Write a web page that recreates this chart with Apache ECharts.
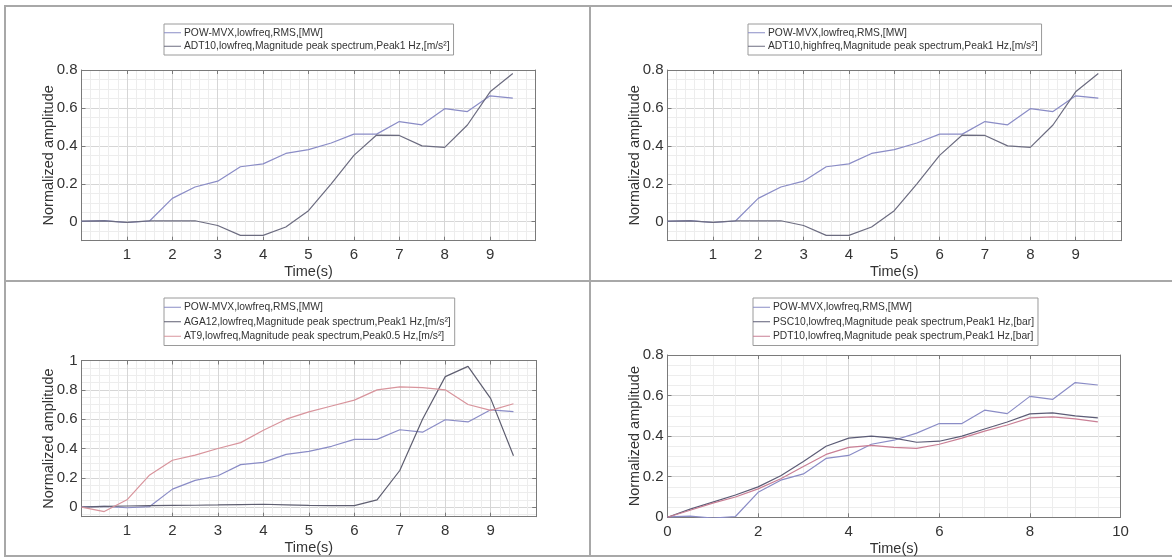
<!DOCTYPE html>
<html lang="en">
<head>
    <meta charset="UTF-8">
    <title>Normalized amplitude</title>
    <script src="https://cdn.jsdelivr.net/npm/echarts@6/dist/echarts.min.js"></script>
    <style>
        html,
        body {
            margin: 0px;
            padding: 0px;
            background: #fff;
        }

        #main {
            width: 1172px;
            height: 558px;
        }
    </style>
</head>
<body>
    <div id="main"></div>
    <script>
        // sample times (s)
        var time = [0, 0.5, 1, 1.5, 2, 2.5, 3, 3.5, 4, 4.5, 5, 5.5, 6, 6.5, 7, 7.5, 8, 8.5, 9, 9.5];

        // normalized series
        var powMvx = [0.002, 0.006, -0.004, 0.004, 0.123, 0.183, 0.214, 0.29, 0.305, 0.36, 0.38, 0.415, 0.462, 0.462, 0.528, 0.511, 0.596, 0.581, 0.664, 0.652];
        var adt10 = [0.003, 0.005, -0.003, 0.005, 0.005, 0.005, -0.02, -0.072, -0.072, -0.028, 0.058, 0.2, 0.35, 0.457, 0.455, 0.4, 0.392, 0.51, 0.685, 0.782];
        var aga12 = [0.0, 0.006, 0.008, 0.01, 0.012, 0.013, 0.015, 0.018, 0.02, 0.016, 0.012, 0.01, 0.01, 0.05, 0.25, 0.6, 0.89, 0.96, 0.74, 0.35];
        var at9 = [0.0, -0.03, 0.05, 0.22, 0.32, 0.355, 0.4, 0.44, 0.525, 0.6, 0.65, 0.69, 0.73, 0.8, 0.82, 0.815, 0.8, 0.7, 0.66, 0.705];
        var psc10 = [0.0, 0.04, 0.075, 0.11, 0.15, 0.205, 0.275, 0.35, 0.39, 0.4, 0.39, 0.37, 0.375, 0.4, 0.435, 0.47, 0.51, 0.515, 0.5, 0.49];
        var pdt10 = [0.0, 0.035, 0.07, 0.1, 0.14, 0.19, 0.25, 0.31, 0.345, 0.355, 0.345, 0.34, 0.36, 0.39, 0.425, 0.455, 0.49, 0.495, 0.485, 0.47];

        var names = {
            pow: 'POW-MVX,lowfreq,RMS,[MW]',
            adtLow: 'ADT10,lowfreq,Magnitude peak spectrum,Peak1 Hz,[m/s\u00b2]',
            adtHigh: 'ADT10,highfreq,Magnitude peak spectrum,Peak1 Hz,[m/s\u00b2]',
            aga: 'AGA12,lowfreq,Magnitude peak spectrum,Peak1 Hz,[m/s\u00b2]',
            at9: 'AT9,lowfreq,Magnitude peak spectrum,Peak0.5 Hz,[m/s\u00b2]',
            psc: 'PSC10,lowfreq,Magnitude peak spectrum,Peak1 Hz,[bar]',
            pdt: 'PDT10,lowfreq,Magnitude peak spectrum,Peak1 Hz,[bar]'
        };

        var FONT = '"Liberation Sans", Arial, sans-serif';
        var C_POW = '#8a8cc6';
        var C_DARK = '#6c6c80';
        var C_PINK = '#d8949c';

        var panels = [
            {
                grid: { left: 81.5, top: 70, width: 454, height: 170.7 },
                yMin: -0.1, yMax: 0.8, xStep: 1, xEnds: false,
                legend: { left: 164, top: 24 },
                lines: [[names.pow, powMvx, C_POW], [names.adtLow, adt10, C_DARK]]
            },
            {
                grid: { left: 667.5, top: 70, width: 453.5, height: 170.7 },
                yMin: -0.1, yMax: 0.8, xStep: 1, xEnds: false,
                legend: { left: 748, top: 24 },
                lines: [[names.pow, powMvx, C_POW], [names.adtHigh, adt10, C_DARK]]
            },
            {
                grid: { left: 81.5, top: 360.5, width: 454.7, height: 156.2 },
                yMin: -0.065, yMax: 1, xStep: 1, xEnds: false,
                legend: { left: 164, top: 298 },
                lines: [[names.pow, powMvx, C_POW], [names.aga, aga12, '#5e5e70'], [names.at9, at9, C_PINK]]
            },
            {
                grid: { left: 667.5, top: 355, width: 453, height: 162.3 },
                yMin: 0, yMax: 0.8, xStep: 2, xEnds: true,
                legend: { left: 753, top: 298 },
                lines: [[names.pow, powMvx, C_POW], [names.psc, psc10, '#5c5c76'], [names.pdt, pdt10, '#c97f95']]
            }
        ];

        function pairs(ys) {
            return time.map(function (t, i) { return [t, ys[i]]; });
        }

        var grids = [], xAxes = [], yAxes = [], series = [], legends = [];
        var axisColor = '#7a7a7a';

        panels.forEach(function (p, i) {
            grids.push(Object.assign({ containLabel: false }, p.grid));

            // bottom x axis + mirrored top one (MATLAB "box on")
            xAxes.push({
                gridIndex: i, type: 'value', position: 'bottom',
                min: 0, max: 10, interval: p.xStep,
                axisLine: { onZero: false, lineStyle: { color: axisColor } },
                axisTick: { inside: true, length: 4, lineStyle: { color: axisColor } },
                axisLabel: {
                    margin: 7, fontSize: 15, color: '#333', fontFamily: FONT,
                    showMinLabel: p.xEnds, showMaxLabel: p.xEnds
                },
                splitLine: { show: true, lineStyle: { color: '#d6d6d6' } },
                minorTick: { show: false, splitNumber: p.xStep == 2 ? 4 : 5 },
                minorSplitLine: { show: true, lineStyle: { color: '#ededed' } },
                name: 'Time(s)', nameLocation: 'middle', nameGap: 24,
                nameTextStyle: { fontSize: 14.5, color: '#333', fontFamily: FONT }
            });
            xAxes.push({
                gridIndex: i, type: 'value', position: 'top',
                min: 0, max: 10, interval: p.xStep,
                axisLine: { onZero: false, lineStyle: { color: axisColor } },
                axisTick: { inside: true, length: 4, lineStyle: { color: axisColor } },
                axisLabel: { show: false },
                splitLine: { show: false }
            });

            yAxes.push({
                gridIndex: i, type: 'value', position: 'left',
                min: p.yMin, max: p.yMax, splitNumber: 5,
                axisLine: { onZero: false, lineStyle: { color: axisColor } },
                axisTick: { inside: true, length: 4, lineStyle: { color: axisColor } },
                axisLabel: {
                    margin: 4, fontSize: 15, color: '#333', fontFamily: FONT,
                    showMinLabel: p.yMin === 0, showMaxLabel: true
                },
                splitLine: { show: true, lineStyle: { color: '#d6d6d6' } },
                minorTick: { show: false, splitNumber: 4 },
                minorSplitLine: { show: true, lineStyle: { color: '#ededed' } },
                name: 'Normalized amplitude', nameLocation: 'middle', nameGap: 25,
                nameMoveOverlap: false,
                nameTextStyle: { fontSize: 14.5, color: '#333', fontFamily: FONT }
            });
            yAxes.push({
                gridIndex: i, type: 'value', position: 'right',
                min: p.yMin, max: p.yMax, splitNumber: 5,
                axisLine: { onZero: false, lineStyle: { color: axisColor } },
                axisTick: { inside: true, length: 4, lineStyle: { color: axisColor } },
                axisLabel: { show: false },
                splitLine: { show: false }
            });

            p.lines.forEach(function (ln) {
                series.push({
                    name: ln[0], type: 'line',
                    xAxisIndex: 2 * i, yAxisIndex: 2 * i,
                    data: pairs(ln[1]),
                    symbol: 'none', color: ln[2],
                    lineStyle: { width: 1.2, color: ln[2] },
                    clip: true, animation: false
                });
            });

            legends.push({
                orient: 'vertical',
                left: p.legend.left, top: p.legend.top,
                data: p.lines.map(function (ln) { return ln[0]; }),
                icon: 'rect', itemWidth: 17, itemHeight: 1, itemGap: 0,
                selectedMode: false,
                padding: [2, 4, 2, 0],
                backgroundColor: '#fff',
                borderColor: '#9a9a9a', borderWidth: 1,
                textStyle: { fontSize: 10.3, color: '#333', fontFamily: FONT, lineHeight: p.lines.length == 3 ? 14.5 : 13.5, padding: [0, 0, 0, -2] }
            });
        });

        var chart = echarts.init(document.getElementById('main'));
        chart.setOption({
            backgroundColor: '#fff',
            animation: false,
            grid: grids,
            xAxis: xAxes,
            yAxis: yAxes,
            legend: legends,
            series: series,
            graphic: [
                { type: 'rect', silent: true, shape: { x: 5, y: 6, width: 1180, height: 550 }, style: { fill: 'none', stroke: '#a8a8a8', lineWidth: 2 } },
                { type: 'line', silent: true, shape: { x1: 590, y1: 6, x2: 590, y2: 556 }, style: { stroke: '#a8a8a8', lineWidth: 2 } },
                { type: 'line', silent: true, shape: { x1: 5, y1: 281, x2: 1172, y2: 281 }, style: { stroke: '#a8a8a8', lineWidth: 2 } }
            ]
        });
    </script>
</body>
</html>
